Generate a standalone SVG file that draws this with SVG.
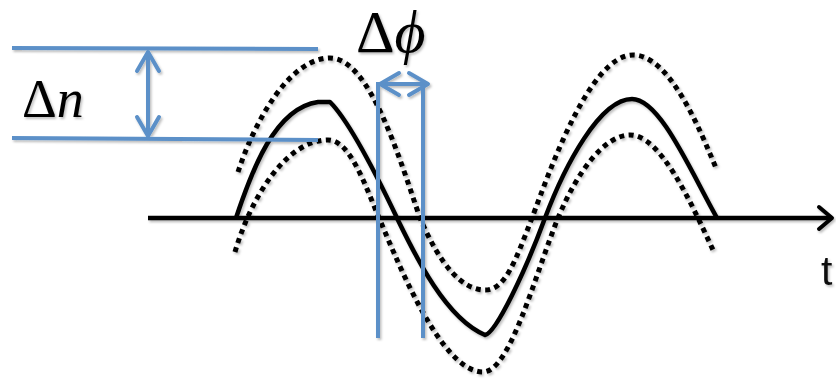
<svg xmlns="http://www.w3.org/2000/svg" width="836" height="379" viewBox="0 0 836 379">
<style>
.blue{stroke:#5b90c8;stroke-width:4;fill:none}
.blk{stroke:#000;stroke-width:4.5;fill:none;stroke-linejoin:round}
.dot{stroke:#000;stroke-width:5;fill:none;stroke-dasharray:5 4.5}
.lbl{font-family:"Liberation Serif","DejaVu Serif",serif;fill:#000}
</style>
<defs>
<filter id="sh" x="-10%" y="-10%" width="120%" height="120%">
<feDropShadow dx="1.5" dy="2" stdDeviation="1.2" flood-color="#000" flood-opacity="0.25"/>
</filter>
<marker id="chevB" viewBox="-22 -14 25 28" refX="0" refY="0" markerWidth="25" markerHeight="28" markerUnits="userSpaceOnUse" orient="auto-start-reverse">
<path d="M-19,-11 L0,0 L-19,11" fill="none" stroke="#5b90c8" stroke-width="4" stroke-linecap="round" stroke-linejoin="round"/>
</marker>
<marker id="chevK" viewBox="-18 -14 21 28" refX="0" refY="0" markerWidth="21" markerHeight="28" markerUnits="userSpaceOnUse" orient="auto">
<path d="M-13,-11 L0,0 L-13,11" fill="none" stroke="#000" stroke-width="4" stroke-linecap="round" stroke-linejoin="round"/>
</marker>
</defs>
<g filter="url(#sh)">
<g id="axis">
<line class="blk" x1="148" y1="218" x2="832" y2="218" marker-end="url(#chevK)"/>
<text x="821" y="285" font-family="'Liberation Sans','DejaVu Sans',sans-serif" font-size="41" fill="#111">t</text>
</g>
<g id="curves">
<path id="solid" class="blk" d="M236,218 C252,170 275,108 318,102 L330,102 C350,122 378,178 397,218 C415,255 445,318 485,335 C496,333 525,272 545,218 C565,165 600,99 632,99 C660,99 690,170 717,218"/>
<path id="upper" class="dot" d="M238,172 C255,120 290,58 330,58 C370,58 400,160 420,218 C440,265 462,290 485,290 C505,290 515,262 532,218 C550,170 590,55 633,55 C670,55 700,130 716,168"/>
<path id="lower" class="dot" d="M235,252 C250,200 285,140 328,140 C350,140 365,185 377,213 C395,255 440,372 483,372 C510,372 535,275 558,218 C578,170 605,135 630,135 C660,135 690,200 713,250"/>
</g>
<g id="delta-n">
<line class="blue" x1="12" y1="48" x2="318" y2="49"/>
<line class="blue" x1="12" y1="138" x2="318" y2="140"/>
<line class="blue" x1="148" y1="52" x2="148" y2="136" marker-start="url(#chevB)" marker-end="url(#chevB)"/>
<text class="lbl" x="22" y="117" font-size="54">Δ<tspan font-style="italic">n</tspan></text>
</g>
<g id="delta-phi">
<line class="blue" x1="378" y1="82" x2="378" y2="338"/>
<line class="blue" x1="423" y1="82" x2="423" y2="338"/>
<line class="blue" x1="380" y1="84" x2="428" y2="84" marker-start="url(#chevB)" marker-end="url(#chevB)"/>
<text class="lbl" x="356" y="52" font-size="60">Δ<tspan font-style="italic">ϕ</tspan></text>
</g>
</g>
</svg>
